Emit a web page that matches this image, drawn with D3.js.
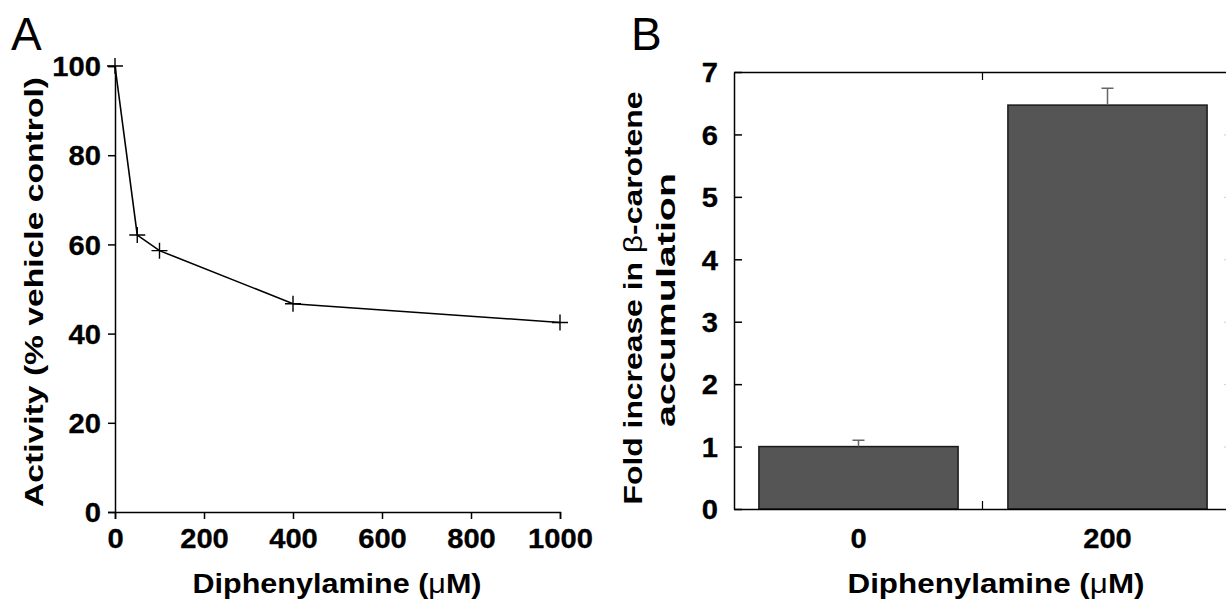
<!DOCTYPE html>
<html><head><meta charset="utf-8">
<script src="https://cdn.jsdelivr.net/npm/d3@7"></script>
<style>
body{margin:0;background:#fff;}
svg{display:block;font-family:"Liberation Sans",Arial,sans-serif;}
</style></head>
<body><svg id="c" width="1226" height="600"></svg>
<script>
// Panel A data
const concA = [0, 50, 100, 400, 1000];
const activityA = [100, 62.1, 58.6, 46.7, 42.5];
const xTicksA = [0, 200, 400, 600, 800, 1000];
const yTicksA = [0, 20, 40, 60, 80, 100];
// Panel B data
const catsB = ["0", "200"];
const foldB = [1.0, 6.47];
const errB = [0.1, 0.27];
const yTicksB = [0, 1, 2, 3, 4, 5, 6, 7];

const svg = d3.select("#c");
const FS = 27;
const FF = "Liberation Sans, Arial, sans-serif";

function stretch(sel, k) {
  sel.each(function () {
    const l = this.getComputedTextLength();
    d3.select(this).attr("textLength", l * k).attr("lengthAdjust", "spacingAndGlyphs");
  });
}
function styleAxis(a) {
  a.select(".domain").attr("stroke", "#000").attr("stroke-width", 1.5);
  a.selectAll(".tick line").attr("stroke", "#000").attr("stroke-width", 1.5);
  a.selectAll(".tick text").attr("font-size", FS).attr("font-weight", "bold").attr("fill", "#000")
    .attr("font-family", FF).attr("stroke", "#000").attr("stroke-width", 0.3);
}

// ---------- Panel A ----------
const xA = d3.scaleLinear().domain([0, 1000]).range([115, 560]);
const yA = d3.scaleLinear().domain([0, 100]).range([512, 66]);

const gA = svg.append("g");
const axA = gA.append("g").attr("transform", `translate(0,${yA(0)})`)
  .call(d3.axisBottom(xA).tickValues(xTicksA).tickSize(7).tickPadding(9).tickFormat(d3.format("d")));
const ayA = gA.append("g").attr("transform", `translate(${xA(0)},0)`)
  .call(d3.axisLeft(yA).tickValues(yTicksA).tickSize(7).tickPadding(7).tickFormat(d3.format("d")));
[axA, ayA].forEach(styleAxis);
ayA.selectAll(".tick text").attr("dy", "0.36em");
axA.selectAll(".tick text").attr("dy", "0.74em");

const ptsA = concA.map((c, i) => [c, activityA[i]]);
gA.append("path").datum(ptsA)
  .attr("fill", "none").attr("stroke", "#000").attr("stroke-width", 1.6)
  .attr("d", d3.line().x(d => xA(d[0])).y(d => yA(d[1])));
const cross = 8;
gA.selectAll(".mk").data(ptsA).join("path").attr("class", "mk")
  .attr("stroke", "#000").attr("stroke-width", 1.4).attr("fill", "none")
  .attr("d", d => {
    const x = xA(d[0]), y = yA(d[1]);
    return `M${x - cross},${y}H${x + cross}M${x},${y - cross}V${y + cross}`;
  });

const xlA = gA.append("text").attr("x", 337).attr("y", 593).attr("text-anchor", "middle")
  .attr("font-size", 28).attr("font-weight", "bold").text("Diphenylamine (");
xlA.append("tspan").attr("font-weight", "normal").text("μ");
xlA.append("tspan").text("M)");
xlA.attr("textLength", 289).attr("lengthAdjust", "spacingAndGlyphs");

gA.append("text").attr("transform", "translate(43,292) rotate(-90)").attr("text-anchor", "middle")
  .attr("font-size", 26).attr("font-weight", "bold").text("Activity (% vehicle control)")
  .attr("textLength", 430).attr("lengthAdjust", "spacingAndGlyphs");

svg.append("text").attr("x", 11).attr("y", 50).attr("font-size", 46).text("A");
svg.append("text").attr("x", 631).attr("y", 50).attr("font-size", 46).text("B");

// ---------- Panel B ----------
const xB = d3.scaleBand().domain(catsB).range([734, 1232]).paddingInner(0.2).paddingOuter(0.1);
const yB = d3.scaleLinear().domain([0, 7]).range([509, 72]);
const gB = svg.append("g");

gB.selectAll(".bar").data(catsB).join("rect").attr("class", "bar")
  .attr("x", d => xB(d)).attr("width", xB.bandwidth())
  .attr("y", (d, i) => yB(foldB[i])).attr("height", (d, i) => yB(0) - yB(foldB[i]))
  .attr("fill", "#555555").attr("stroke", "#1a1a1a").attr("stroke-width", 1.5);

const capW = 6;
gB.selectAll(".err").data(catsB).join("path").attr("class", "err")
  .attr("stroke", "#666").attr("stroke-width", 1.5).attr("fill", "none")
  .attr("d", (d, i) => {
    const cx = xB(d) + xB.bandwidth() / 2;
    const y0 = yB(foldB[i]), y1 = yB(foldB[i] + errB[i]);
    return `M${cx},${y0}V${y1}M${cx - capW},${y1}H${cx + capW}`;
  });

const boundary = [734 + xB.step() - 0.5];
const ayB = gB.append("g").attr("transform", `translate(734,0)`)
  .call(d3.axisLeft(yB).tickValues(yTicksB).tickSizeInner(-8).tickSizeOuter(0).tickPadding(16).tickFormat(d3.format("d")));
const ayB2 = gB.append("g").attr("transform", `translate(1232,0)`)
  .call(d3.axisRight(yB).tickValues(yTicksB.filter(v => v > 0 && v < 7)).tickSizeInner(-8).tickSizeOuter(0).tickFormat(""));
const axB = gB.append("g").attr("transform", `translate(0,${yB(0)})`)
  .call(d3.axisBottom(xB).tickSize(0).tickPadding(19));
const axBT = gB.append("g").attr("transform", `translate(0,${yB(7)})`)
  .call(d3.axisTop(xB).tickSize(0).tickFormat(""));
[ayB, ayB2, axB, axBT].forEach(styleAxis);
ayB2.selectAll(".tick line").attr("stroke", "#d0d0d0").attr("stroke-width", 1);
ayB.selectAll(".tick text").attr("dy", "0.36em");
axB.selectAll(".tick text").attr("dy", "0.74em");

gB.selectAll(".bt").data(boundary).join("path").attr("class", "bt")
  .attr("stroke", "#000").attr("stroke-width", 1.2)
  .attr("d", d => `M${d},${yB(0)}V${yB(0) - 8}M${d},${yB(7)}V${yB(7) + 8}`);

const xlB = gB.append("text").attr("x", 996).attr("y", 593).attr("text-anchor", "middle")
  .attr("font-size", 28).attr("font-weight", "bold").text("Diphenylamine (");
xlB.append("tspan").attr("font-weight", "normal").text("μ");
xlB.append("tspan").text("M)");
xlB.attr("textLength", 297).attr("lengthAdjust", "spacingAndGlyphs");

const yl = gB.append("text").attr("transform", "translate(642,298) rotate(-90)").attr("text-anchor", "middle")
  .attr("font-size", 26).attr("font-weight", "bold").text("Fold increase in ");
yl.append("tspan").attr("font-weight", "normal").text("β");
yl.append("tspan").text("-carotene");
yl.attr("textLength", 413).attr("lengthAdjust", "spacingAndGlyphs");
gB.append("text").attr("transform", "translate(675,300) rotate(-90)").attr("text-anchor", "middle")
  .attr("font-size", 26).attr("font-weight", "bold").text("accumulation")
  .attr("textLength", 254).attr("lengthAdjust", "spacingAndGlyphs");

// widen tick labels slightly to match the reference glyph proportions
stretch(svg.selectAll(".tick text"), 1.08);
</script></body></html>
